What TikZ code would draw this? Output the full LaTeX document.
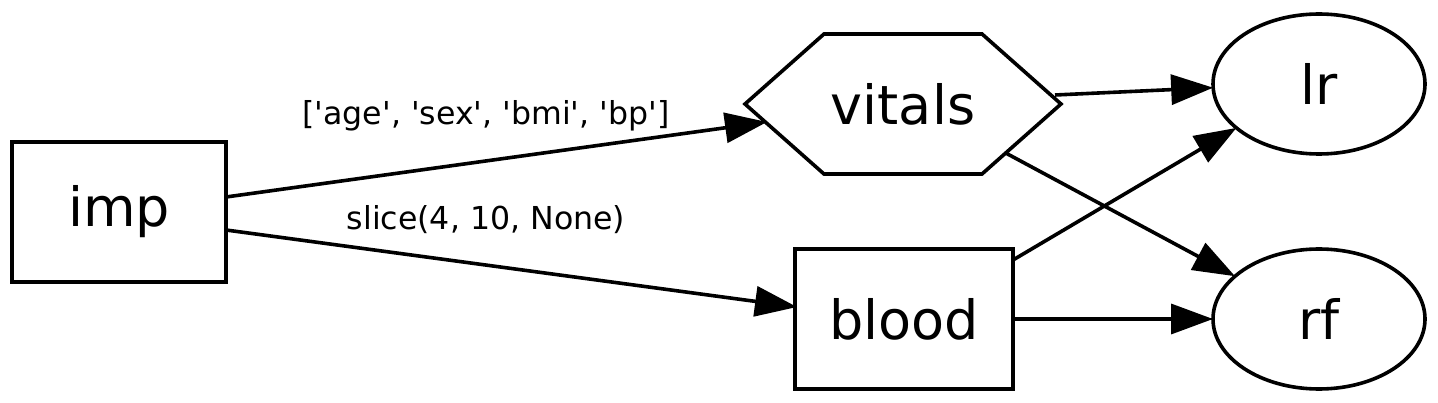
\documentclass[tikz,border=0pt]{standalone}
\usepackage{fontspec}
\setmainfont{DejaVu Sans}
\usetikzlibrary{arrows.meta,shapes.geometric,calc}
\newcommand{\sq}{\textquotesingle}
\begin{document}
\begin{tikzpicture}[x=1pt,y=1pt,
  nodefont/.style={font=\fontsize{54}{60}\selectfont},
  boxnode/.style={draw,line width=3.6pt,rectangle,minimum width=214pt,minimum height=140pt,inner sep=0pt,outer sep=0pt,nodefont},
  ellnode/.style={draw,line width=3.6pt,ellipse,minimum width=212pt,minimum height=140pt,inner sep=0pt,outer sep=0pt,nodefont},
  hexnode/.style={rectangle,minimum width=316pt,minimum height=140pt,inner sep=0pt,outer sep=0pt,nodefont},
  edge/.style={line width=3.6pt,-{Triangle[length=42pt,width=30pt]}},
  elabel/.style={font=\fontsize{31.6}{36}\selectfont,anchor=base,inner sep=0pt}
]
\useasboundingbox (0,0) rectangle (1438,402);
\node[boxnode] (imp) at (119,190) {imp};
\node[hexnode] (vitals) at (903,298) {vitals};
\draw[line width=3.6pt,line join=miter] (vitals.west) -- ([xshift=79pt]vitals.north west) -- ([xshift=-79pt]vitals.north east) -- (vitals.east) -- ([xshift=-79pt]vitals.south east) -- ([xshift=79pt]vitals.south west) -- cycle;
\node[boxnode,minimum width=218pt] (blood) at (904,83) {blood};
\node[ellnode] (lr) at (1319,318) {lr};
\node[ellnode] (rf) at (1319,83) {rf};
\node[elabel] (l1) at (486,277) {[\sq age\sq, \sq sex\sq, \sq bmi\sq, \sq bp\sq]};
\node[elabel] (l2) at (486,172) {slice(4, 10, None)};
\draw[edge] ([yshift=15pt]imp.east) -- ([xshift=22pt,yshift=-18pt]vitals.west);
\draw[edge] ([yshift=-18pt]imp.east) -- ([xshift=2pt,yshift=12pt]blood.west);
\draw[edge] ([xshift=-6pt,yshift=9pt]vitals.east) -- (lr.182);
\draw[edge] ($(vitals.east)!0.7!([xshift=-79pt]vitals.south east)$) -- (rf.153);
\draw[edge] ([yshift=-11pt]blood.north east) -- (lr.208);
\draw[edge] (blood.east) -- (rf.west);
\end{tikzpicture}
\end{document}
